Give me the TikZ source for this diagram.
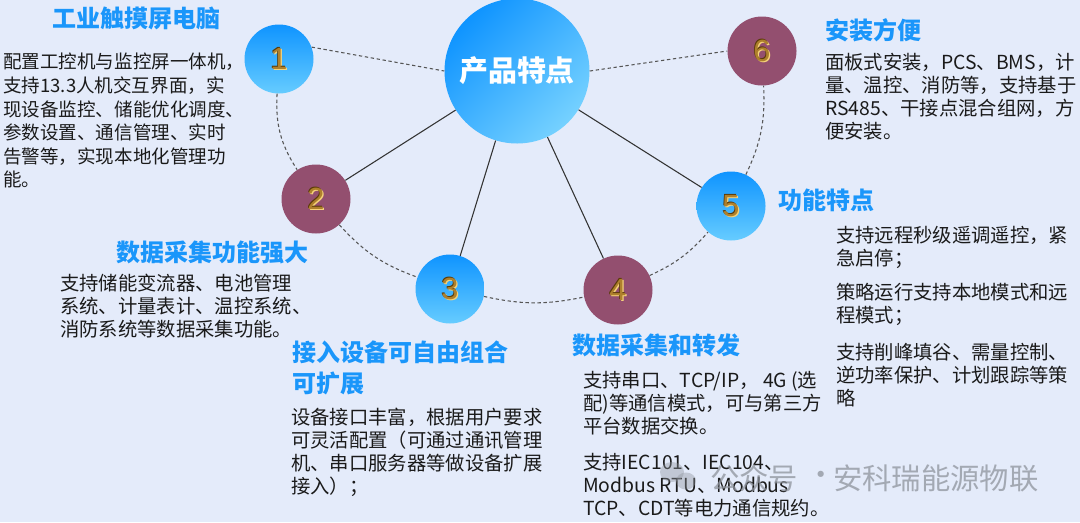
\documentclass[tikz,border=0pt]{standalone}
\usepackage{fontspec}
\setmainfont{Noto Sans CJK SC}
\newfontfamily\numfont{Liberation Sans}
\definecolor{bgc}{HTML}{E4EBFA}
\definecolor{tblue}{HTML}{1A96FA}
\definecolor{maroon}{HTML}{934F6F}
\definecolor{ctop}{HTML}{0F94FF}
\definecolor{cbot}{HTML}{66CCFF}
\definecolor{linec}{HTML}{333333}
\definecolor{dashc}{HTML}{555555}
\definecolor{txtc}{HTML}{1A1A1A}
\definecolor{numfill}{HTML}{AE802C}
\definecolor{numdark}{HTML}{5A3A08}
\definecolor{numlight}{HTML}{F5D27A}
\definecolor{wmc}{HTML}{8E939C}
\tikzset{
  bluecirc/.style={circle, minimum size=51.75pt, inner sep=0pt, top color=ctop, bottom color=cbot},
  redcirc/.style={circle, minimum size=51.75pt, inner sep=0pt, fill=maroon},
  centercirc/.style={circle, minimum size=108.75pt, inner sep=0pt, top color=ctop, bottom color=cbot!90!white, shading angle=45, text=white, font=\fontsize{21.7}{24}\selectfont\bfseries},
  numtxt/.style={inner sep=0pt, font=\numfont\fontsize{23}{24}\selectfont},
  ttl/.style={anchor=west, inner sep=0pt, text=tblue, font=\fontsize{18}{21}\selectfont\bfseries},
  ttlml/.style={anchor=north west, inner sep=0pt, align=left, text=tblue, font=\fontsize{18}{21}\selectfont\bfseries},
  bodyt/.style={anchor=north west, inner sep=0pt, align=left, text=txtc, font=\fontsize{14.5}{17.3}\selectfont},
  bodyone/.style={anchor=north west, inner sep=0pt, align=left, text=txtc, font=\fontsize{13.9}{17.7}\selectfont},
  solidln/.style={draw=linec, line width=0.8pt},
  dashln/.style={draw=dashc, line width=0.8pt, dash pattern=on 2.5pt off 2pt},
  wm/.style={anchor=west, inner sep=0pt, text=wmc, text opacity=0.75, font=\fontsize{22}{24}\selectfont}
}
\newcommand\numat[2]{%
  \node[numtxt, text=numlight] at ([shift={(1.2,1.2)}]#1.center) {#2};
  \node[numtxt, text=numdark] at ([shift={(-0.8,-0.8)}]#1.center) {#2};
  \node[numtxt, text=numfill] at (#1.center) {#2};}
\begin{document}
\begin{tikzpicture}[x=0.75pt,y=-0.75pt]
\useasboundingbox (0,0) rectangle (1080,522);
\fill[bgc] (0,0) rectangle (1080,522);

% circles
\node[centercirc] (c) at (517,71) {产品特点};
\node[bluecirc] (n1) at (279,59) {};
\node[redcirc] (n2) at (316,199) {};
\node[bluecirc] (n3) at (450,289) {};
\node[redcirc] (n4) at (618,290) {};
\node[bluecirc] (n5) at (731,206) {};
\node[redcirc] (n6) at (762,51) {};

% connectors
\draw[solidln] (c) -- (n2);
\draw[solidln] (c) -- (n3);
\draw[solidln] (c) -- (n4);
\draw[solidln] (c) -- (n5);
\draw[dashln] (n1.20) -- (c.180);
\draw[dashln] (c.0) -- (n6.180);
\draw[dashln] (n1) to[bend right=18] (n2);
\draw[dashln] (n2) to[bend right=14] (n3);
\draw[dashln] (n3) to[bend right=12] (n4);
\draw[dashln] (n4) to[bend right=12] (n5);
\draw[dashln] (n5) to[bend right=14] (n6);

% numbers
\numat{n1}{1}
\numat{n2}{2}
\numat{n3}{3}
\numat{n4}{4}
\numat{n5}{5}
\numat{n6}{6}

% block 1
\node[ttl] (t1) at (52,18) {工业触摸屏电脑};
\node[bodyone] (b1) at (3,53) {配置工控机与监控屏一体机，\\支持13.3人机交互界面，实\\现设备监控、储能优化调度、\\参数设置、通信管理、实时\\告警等，实现本地化管理功\\能。};

% block 2
\node[ttl] (t2) at (116,252) {数据采集功能强大};
\node[bodyt] (b2) at (60,274) {支持储能变流器、电池管理\\系统、计量表计、温控系统、\\消防系统等数据采集功能。};

% block 3
\node[ttlml] (t3) at (292,341) {接入设备可自由组合\\[2pt]可扩展};
\node[bodyt] (b3) at (291,408) {设备接口丰富，根据用户要求\\可灵活配置（可通过通讯管理\\机、串口服务器等做设备扩展\\接入）；};

% block 4
\node[ttl] (t4) at (572,345) {数据采集和转发};
\node[bodyt] (b4a) at (583,371) {支持串口、TCP/IP， 4G (选\\配)等通信模式，可与第三方\\平台数据交换。};
\node[bodyt] (b4b) at (583,453) {支持IEC101、IEC104、\\Modbus RTU、Modbus\\TCP、CDT等电力通信规约。};

% block 5
\node[ttl] (t5) at (778,200) {功能特点};
\node[bodyt] (b5a) at (836,226) {支持远程秒级遥调遥控，紧\\急启停；};
\node[bodyt] (b5b) at (836,283) {策略运行支持本地模式和远\\程模式；};
\node[bodyt] (b5c) at (836,343) {支持削峰填谷、需量控制、\\逆功率保护、计划跟踪等策\\略};

% block 6
\node[ttl] (t6) at (825,30) {安装方便};
\node[bodyt] (b6) at (825,53) {面板式安装，PCS、BMS，计\\量、温控、消防等，支持基于\\RS485、干接点混合组网，方\\便安装。};

% watermark
\fill[wmc, opacity=0.4] (672,472) ellipse [x radius=12, y radius=10];
\fill[wmc, opacity=0.4] (686,481) ellipse [x radius=10, y radius=8.5];
\node[wm] (w1) at (710,478) {公众号};
\node[wm] (w2) at (806,478) {·};
\node[wm] (w3) at (833,478) {安科瑞能源物联};
\end{tikzpicture}
\end{document}
